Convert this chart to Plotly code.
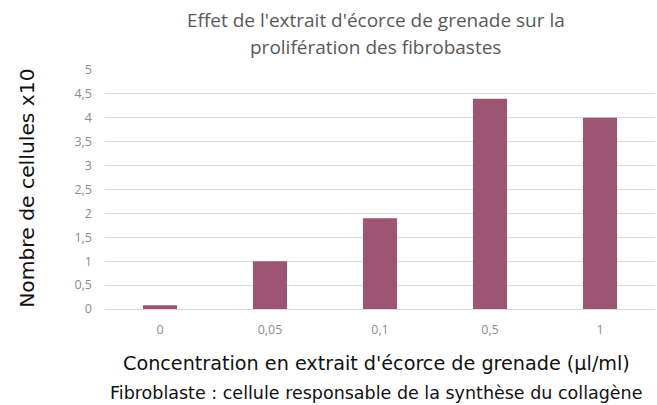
import plotly.graph_objects as go

categories = ["0", "0,05", "0,1", "0,5", "1"]
values = [0.08, 1.0, 1.9, 4.4, 4.0]
y_tick_vals = [0, 0.5, 1, 1.5, 2, 2.5, 3, 3.5, 4, 4.5, 5]
y_tick_text = ["0", "0,5", "1", "1,5", "2", "2,5", "3", "3,5", "4", "4,5", "5"]

title_line1 = "Effet de l'extrait d'écorce de grenade sur la"
title_line2 = "prolifération des fibrobastes"
x_title = "Concentration en extrait d'écorce de grenade (µl/ml)"
subtitle = "Fibroblaste : cellule responsable de la synthèse du collagène"
y_title = "Nombre de cellules x10"

fig = go.Figure(go.Bar(
    x=categories, y=values,
    marker=dict(color="#9c5674", line=dict(width=0)),
    width=0.31,
))

title_font = dict(family="Open Sans", size=19, color="#595959")
tick_font = dict(family="Open Sans", size=12.5, color="#8c8c8c")

fig.update_layout(
    width=657, height=405,
    margin=dict(l=105, r=2, t=70, b=96),
    paper_bgcolor="white", plot_bgcolor="white",
    showlegend=False,
    xaxis=dict(type="category", showgrid=False, showline=False, zeroline=False,
               ticks="", ticklabelstandoff=11, tickfont=tick_font),
    yaxis=dict(range=[0, 5], tickvals=y_tick_vals, ticktext=y_tick_text,
               showgrid=True, gridcolor="#d9d9d9", gridwidth=1,
               zeroline=True, zerolinecolor="#d9d9d9", zerolinewidth=1,
               showline=False, ticks="", ticklabelstandoff=12, tickfont=tick_font),
    annotations=[
        dict(text=title_line1, xref="paper", yref="paper", x=0.4927, y=1.209,
             xanchor="center", yanchor="middle", showarrow=False, font=title_font),
        dict(text=title_line2, xref="paper", yref="paper", x=0.4927, y=1.096,
             xanchor="center", yanchor="middle", showarrow=False, font=title_font),
        dict(text=x_title, xref="paper", yref="paper", x=0.4945, y=-0.226,
             xanchor="center", yanchor="middle", showarrow=False,
             font=dict(family="DejaVu Sans", size=19.2, color="#111111")),
        dict(text=subtitle, xref="paper", yref="paper", x=0.4927, y=-0.351,
             xanchor="center", yanchor="middle", showarrow=False,
             font=dict(family="DejaVu Sans", size=17.5, color="#111111")),
        dict(text=y_title, xref="paper", yref="paper", x=-0.1418, y=0.507,
             xanchor="center", yanchor="middle", textangle=-90, showarrow=False,
             font=dict(family="DejaVu Sans", size=20.3, color="#111111")),
    ],
)

fig.write_html("out.html", config={"displayModeBar": False},
               post_script="document.body.style.margin='0';document.body.style.overflow='hidden';")
